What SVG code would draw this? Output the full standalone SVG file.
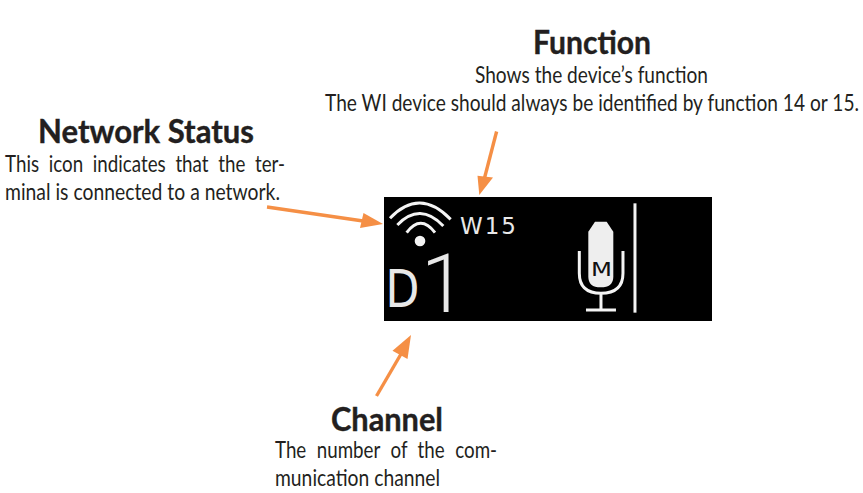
<svg xmlns="http://www.w3.org/2000/svg" width="863" height="493" viewBox="0 0 863 493">
<style>
text{font-family:"Lato","Open Sans","Liberation Sans",sans-serif;fill:#231f20}
.t{font-size:33px;font-weight:700;stroke:#231f20;stroke-width:.4}
.b{font-size:23px;font-weight:400}
.a{stroke:#f58f45;stroke-width:3.4;fill:none}
.h{fill:#f58f45}
.s{stroke:#f4f4f4;fill:none;stroke-width:9}
.lcd{font-family:"DejaVu Sans","Liberation Sans",sans-serif;fill:#e8e8e8}
</style>
<rect width="863" height="493" fill="#fff"/>
<g id="function-label">
<text class="t" x="533" y="54" textLength="118" lengthAdjust="spacingAndGlyphs">Function</text>
<text class="b" transform="translate(475 83) scale(.88 1)" textLength="264.800" lengthAdjust="spacingAndGlyphs">Shows the device’s function</text>
<text class="b" transform="translate(325 111) scale(1 1.19)" style="font-size:19.200px" textLength="534" lengthAdjust="spacingAndGlyphs">The WI device should always be identified by function 14 or 15.</text>
</g>
<g id="network-label">
<text class="t" x="38" y="143" textLength="216" lengthAdjust="spacingAndGlyphs">Network Status</text>
<text class="b" transform="translate(5 172) scale(.88 1)" textLength="318.200" lengthAdjust="spacingAndGlyphs" style="word-spacing:6px">This icon indicates that the ter-</text>
<text class="b" transform="translate(5 200) scale(.88 1)" textLength="312.500" lengthAdjust="spacingAndGlyphs">minal is connected to a network.</text>
</g>
<g id="channel-label">
<text class="t" x="331" y="431" textLength="112" lengthAdjust="spacingAndGlyphs">Channel</text>
<text class="b" transform="translate(275 458) scale(.88 1)" textLength="252.300" lengthAdjust="spacingAndGlyphs" style="word-spacing:7px">The number of the com-</text>
<text class="b" transform="translate(275 486) scale(.88 1)" textLength="187.500" lengthAdjust="spacingAndGlyphs">munication channel</text>
</g>
<g id="display">
<rect x="384" y="197" width="328" height="124" fill="#000"/>
<g transform="translate(380 190) scale(.3333)">
<g id="wifi-icon">
<path class="s" d="M30 85Q118 -8 212 88M52 105Q120 35 190 108M80 128Q122 72 165 128"/>
<circle cx="120" cy="153" r="16" fill="#f4f4f4"/>
</g>
<g id="mic-icon">
<path d="M625 125L645 95H680L700 125V260Q700 292 662 292Q625 292 625 260Z" fill="#eee"/>
<path class="s" d="M598 183V250Q598 310 663 310Q729 310 729 250V183M663 310V360M618 360H708"/>
</g>
<path class="s" d="M765 40V368"/>
</g>
<text class="lcd" x="460" y="234" font-size="23" textLength="56" lengthAdjust="spacing">W15</text>
<text class="lcd" transform="translate(385.500 307) scale(1 1.180)" font-size="44">D</text>
<text class="lcd" x="421" y="312" font-size="81" font-weight="300" style="font-family:Roboto,sans-serif">1</text>
<text class="lcd" x="591" y="276" font-size="19" textLength="21" lengthAdjust="spacingAndGlyphs" style="fill:#111">M</text>
</g>
<g id="connectors">
<path class="a" d="M267 207L370 222"/>
<path class="h" d="M383 224L360 228L363.500 213Z"/>
<path class="a" d="M496.600 131.500L484 180"/>
<path class="h" d="M479.300 195L477.500 175.800L493 177.500Z"/>
<path class="a" d="M376.500 396L401 354"/>
<path class="h" d="M411 335L392.500 350.700L407.500 359Z"/>
</g>
</svg>
